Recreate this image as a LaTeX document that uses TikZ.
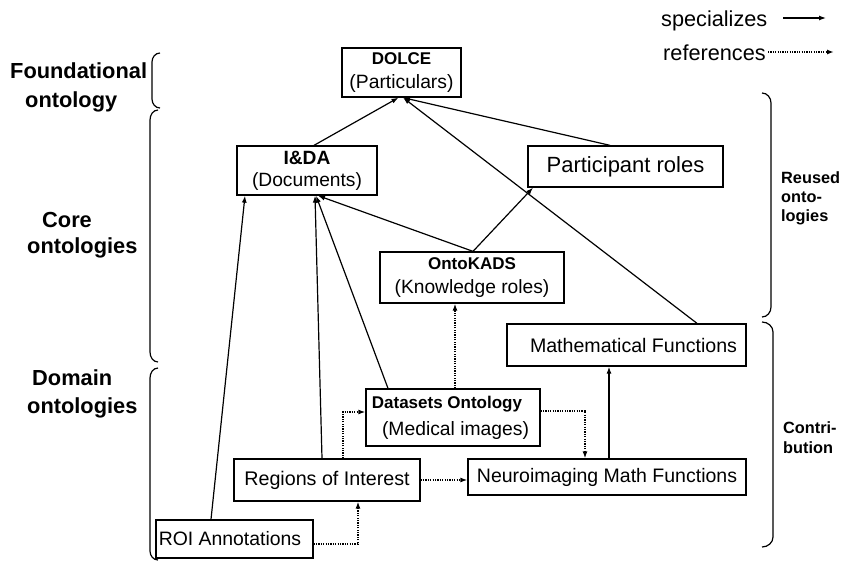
\documentclass[tikz,border=0pt]{standalone}
\usepackage{fontspec}
\setmainfont{Liberation Sans}
\usetikzlibrary{arrows.meta}
\begin{document}
\begin{tikzpicture}[x=1pt,y=-1pt,
  box/.style={draw, line width=1.3pt, inner sep=0pt, align=center},
  spec/.style={line width=1.2pt, -{Latex[length=7pt,width=5pt]}},
  refs/.style={line width=1.4pt, dash pattern=on 1.2pt off 1.2pt, -{Latex[length=7pt,width=5pt]}},
  brc/.style={line width=1.2pt},
  lbl/.style={align=left, inner sep=0pt, anchor=west},
]
\useasboundingbox (0,0) rectangle (843,562);

% legend
\node[lbl, font=\fontsize{21.7}{26}\selectfont] (lspec) at (661,21) {specializes};
\node[lbl, font=\fontsize{21.7}{26}\selectfont] (lref) at (663,53) {references};
\coordinate (ls1) at (783,18);
\coordinate (ls2) at (826,18);
\coordinate (lr1) at (768,52);
\coordinate (lr2) at (834,52);
\draw[spec] (ls1) -- (ls2);
\draw[refs] (lr1) -- (lr2);

% side labels
\node[lbl, font=\fontsize{21.8}{29}\selectfont\bfseries] (lfound) at (10,87.5) {Foundational\\\hspace*{15pt}ontology};
\node[lbl, font=\fontsize{21.8}{26}\selectfont\bfseries] (lcore) at (27,235) {\hspace*{15pt}Core\\ontologies};
\node[lbl, font=\fontsize{21.8}{28}\selectfont\bfseries] (ldom) at (27,394) {\hspace*{5pt}Domain\\ontologies};
\node[lbl, font=\fontsize{16.3}{19}\selectfont\bfseries] (lreuse) at (781,198.5) {Reused\\onto-\\logies};
\node[lbl, font=\fontsize{16.3}{20}\selectfont\bfseries] (lcontr) at (783,438) {Contri-\\bution};

% braces
\draw[brc] (160,53) to[out=180,in=90] (152,62) -- (152,99) to[out=-90,in=180] (160,108);
\draw[brc] (158,110) to[out=180,in=90] (150,120) -- (150,352) to[out=-90,in=180] (158,362);
\draw[brc] (158,368) to[out=180,in=90] (150,378) -- (150,551) to[out=-90,in=180] (158,560);
\draw[brc] (762,93) to[out=0,in=90] (771,103) -- (771,307) to[out=-90,in=0] (762,317);
\draw[brc] (762,322) to[out=0,in=90] (773,332) -- (773,537) to[out=-90,in=0] (762,547);

% nodes
\node[box, font=\fontsize{19.3}{24}\selectfont, minimum width=119pt, minimum height=49pt] (dolce) at (401.5,72.5)
  {{\fontsize{17}{24}\selectfont\bfseries DOLCE}\\(Particulars)};
\node[box, font=\fontsize{19.2}{22}\selectfont, minimum width=140pt, minimum height=49pt] (ida) at (307,170.5)
  {{\bfseries I\&DA}\\(Documents)};
\node[box, font=\fontsize{22}{26}\selectfont, minimum width=195pt, minimum height=41pt] (part) at (625.5,166.5)
  {Participant roles};
\node[box, font=\fontsize{19.2}{24}\selectfont, minimum width=184pt, minimum height=51pt] (onto) at (472,277.5)
  {{\fontsize{17}{24}\selectfont\bfseries OntoKADS}\\(Knowledge roles)};
\node[box, font=\fontsize{19.6}{24}\selectfont, minimum width=239pt, minimum height=42pt] (math) at (626.5,345)
  {\hspace*{14pt}Mathematical Functions};
\node[box, font=\fontsize{19.3}{27}\selectfont, minimum width=174pt, minimum height=57pt] (data) at (453,417.5)
  {{\fontsize{17}{27}\selectfont\bfseries Datasets Ontology}\hspace*{12pt}\\\hspace*{5pt}(Medical images)};
\node[box, font=\fontsize{19.7}{24}\selectfont, minimum width=186pt, minimum height=42pt] (roi) at (327,480)
  {Regions of Interest};
\node[box, font=\fontsize{19.5}{24}\selectfont, minimum width=278pt, minimum height=36pt] (neuro) at (607,477)
  {Neuroimaging Math Functions};
\node[box, font=\fontsize{19.4}{24}\selectfont, minimum width=157pt, minimum height=38pt] (annot) at (234.5,539)
  {ROI Annotations\hspace*{9pt}};

% specializes
\draw[spec] ([xshift=7pt]ida.north) -- ([xshift=-3pt]dolce.south);
\draw[spec] ([xshift=-15.5pt]part.north) -- ([xshift=1.5pt]dolce.south);
\draw[spec] ([xshift=70.5pt]math.north) -- ([xshift=1.5pt]dolce.south);
\draw[spec] ([xshift=-23.5pt]annot.north) -- ([xshift=-62pt]ida.south);
\draw[spec] ([xshift=-5pt]roi.north) -- ([xshift=8pt]ida.south);
\draw[spec] ([xshift=-65pt]data.north) -- ([xshift=9pt]ida.south);
\draw[spec] ([xshift=1pt]onto.north) -- ([xshift=11pt]ida.south);
\draw[spec] ([xshift=1pt]onto.north) -- ([xshift=-92.5pt]part.south);
\draw[spec] ([xshift=2pt]neuro.north) -- ([xshift=-17.5pt]math.south);

% references
\draw[refs] ([xshift=2pt]data.north) -- ([xshift=-17pt]onto.south);
\draw[refs] ([xshift=16pt]roi.north) |- ([yshift=5.5pt]data.west);
\draw[refs] ([yshift=6.5pt]data.east) -| ([xshift=-22pt]neuro.north);
\draw[refs] (roi.east) -- (roi.east -| neuro.west);
\draw[refs] ([yshift=-5pt]annot.east) -| ([xshift=31pt]roi.south);
\end{tikzpicture}
\end{document}
